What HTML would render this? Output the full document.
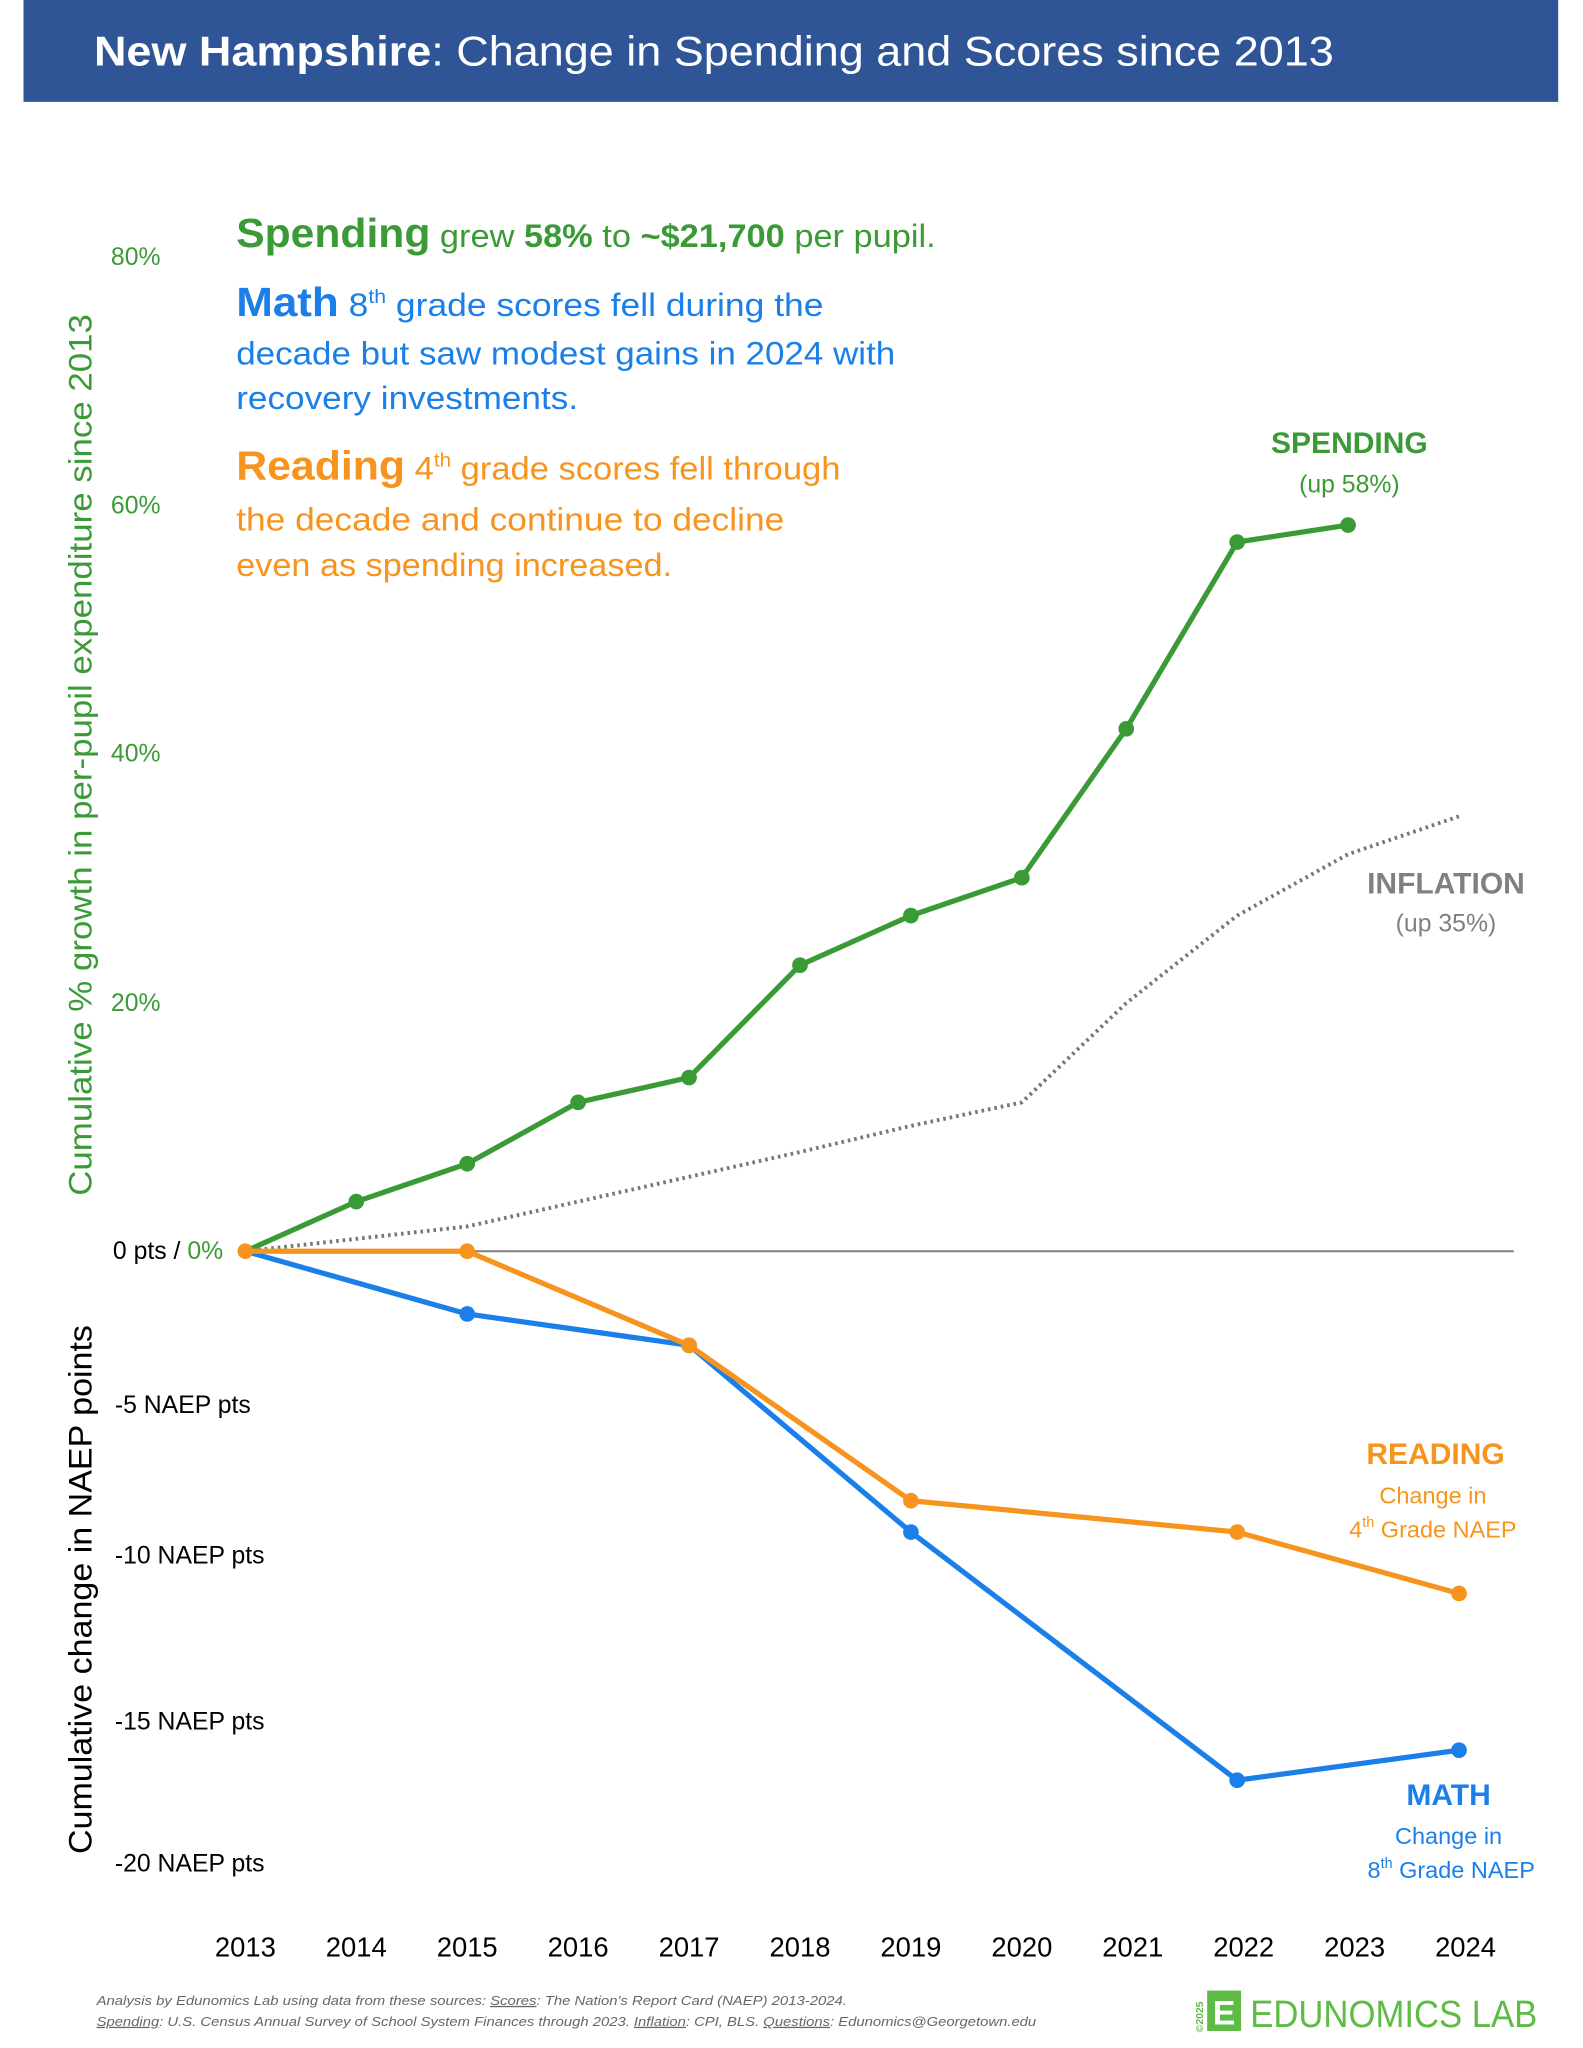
<!DOCTYPE html>
<html><head><meta charset="utf-8"><style>
html,body{margin:0;padding:0;background:#fff;}
svg{display:block;}
text{font-family:"Liberation Sans",sans-serif;}
</style></head><body>
<svg width="1583" height="2048" viewBox="0 0 1213 1568" preserveAspectRatio="none" xmlns="http://www.w3.org/2000/svg">
<rect x="0" y="0" width="1213" height="1568" fill="#fff"/>
<rect x="18" y="0" width="1176" height="78" fill="#2F5597"/>
<text x="72" y="50" font-size="32" fill="#fff" textLength="950" lengthAdjust="spacingAndGlyphs"><tspan font-weight="bold">New Hampshire</tspan>: Change in Spending and Scores since 2013</text>

<!-- intro text -->
<text x="181" y="189" font-size="25" fill="#3A9A35" textLength="536" lengthAdjust="spacingAndGlyphs"><tspan font-size="31" font-weight="bold">Spending</tspan> grew <tspan font-weight="bold">58%</tspan> to <tspan font-weight="bold">~$21,700</tspan> per pupil.</text>
<text x="181" y="242" font-size="25" fill="#1A7FE8" textLength="450" lengthAdjust="spacingAndGlyphs"><tspan font-size="31" font-weight="bold">Math</tspan> 8<tspan font-size="15" dy="-10">th</tspan><tspan dy="10"> grade scores fell during the</tspan></text>
<text x="181" y="279" font-size="25" fill="#1A7FE8" textLength="505" lengthAdjust="spacingAndGlyphs">decade but saw modest gains in 2024 with</text>
<text x="181" y="313" font-size="25" fill="#1A7FE8" textLength="262" lengthAdjust="spacingAndGlyphs">recovery investments.</text>
<text x="181" y="367" font-size="25" fill="#F7941D" textLength="463" lengthAdjust="spacingAndGlyphs"><tspan font-size="31" font-weight="bold">Reading</tspan> 4<tspan font-size="15" dy="-10">th</tspan><tspan dy="10"> grade scores fell through</tspan></text>
<text x="181" y="406" font-size="25" fill="#F7941D" textLength="420" lengthAdjust="spacingAndGlyphs">the decade and continue to decline</text>
<text x="181" y="441" font-size="25" fill="#F7941D" textLength="334" lengthAdjust="spacingAndGlyphs">even as spending increased.</text>

<!-- y labels -->
<g font-size="19" fill="#3A9A35">
<text x="85" y="203">80%</text><text x="85" y="393">60%</text><text x="85" y="583">40%</text><text x="85" y="774">20%</text>
</g>
<text x="171" y="964" font-size="19" text-anchor="end" fill="#000">0 pts / <tspan fill="#3A9A35">0%</tspan></text>
<g font-size="19" fill="#000">
<text x="88" y="1082">-5 NAEP pts</text><text x="88" y="1197">-10 NAEP pts</text><text x="88" y="1324">-15 NAEP pts</text><text x="88" y="1433">-20 NAEP pts</text>
</g>
<text transform="translate(70,578) rotate(-90)" text-anchor="middle" font-size="25" fill="#3A9A35" textLength="675" lengthAdjust="spacingAndGlyphs">Cumulative % growth in per-pupil expenditure since 2013</text>
<text transform="translate(70,1217) rotate(-90)" text-anchor="middle" font-size="25" fill="#000" textLength="405" lengthAdjust="spacingAndGlyphs">Cumulative change in NAEP points</text>

<!-- zero line -->
<line x1="188" y1="958" x2="1160" y2="958" stroke="#808080" stroke-width="1.5"/>

<!-- inflation -->
<polyline fill="none" stroke="#777" stroke-width="3" stroke-dasharray="2,3" points="188,958 358,939 528,901 613,882 698,862 783,844 863,768 948,701 1033,654 1118,625"/>
<!-- spending -->
<polyline fill="none" stroke="#3A9A35" stroke-width="4" points="188,958 273,920 358,891 443,844 528,825 613,739 698,701 783,672 863,558 948,415 1033,402"/>
<g fill="#3A9A35">
<circle cx="273" cy="920" r="6"/><circle cx="358" cy="891" r="6"/><circle cx="443" cy="844" r="6"/><circle cx="528" cy="825" r="6"/><circle cx="613" cy="739" r="6"/><circle cx="698" cy="701" r="6"/><circle cx="783" cy="672" r="6"/><circle cx="863" cy="558" r="6"/><circle cx="948" cy="415" r="6"/><circle cx="1033" cy="402" r="6"/>
</g>
<!-- math -->
<polyline fill="none" stroke="#1A7FE8" stroke-width="4" points="188,958 358,1006 528,1030 698,1173 948,1363 1118,1340"/>
<g fill="#1A7FE8">
<circle cx="358" cy="1006" r="6"/><circle cx="528" cy="1030" r="6"/><circle cx="698" cy="1173" r="6"/><circle cx="948" cy="1363" r="6"/><circle cx="1118" cy="1340" r="6"/>
</g>
<!-- reading -->
<polyline fill="none" stroke="#F7941D" stroke-width="4" points="188,958 358,958 528,1030 698,1149 948,1173 1118,1220"/>
<g fill="#F7941D">
<circle cx="188" cy="958" r="6"/><circle cx="358" cy="958" r="6"/><circle cx="528" cy="1030" r="6"/><circle cx="698" cy="1149" r="6"/><circle cx="948" cy="1173" r="6"/><circle cx="1118" cy="1220" r="6"/>
</g>

<!-- annotations -->
<g text-anchor="middle">
<text x="1034" y="347" font-size="23" font-weight="bold" fill="#3A9A35">SPENDING</text>
<text x="1034" y="377" font-size="19" fill="#3A9A35">(up 58%)</text>
<text x="1108" y="684" font-size="23" font-weight="bold" fill="#808080">INFLATION</text>
<text x="1108" y="713" font-size="19" fill="#808080">(up 35%)</text>
<text x="1100" y="1121" font-size="23" font-weight="bold" fill="#F7941D">READING</text>
<text x="1098" y="1151" font-size="18" fill="#F7941D">Change in</text>
<text x="1098" y="1177" font-size="18" fill="#F7941D">4<tspan font-size="11" dy="-8">th</tspan><tspan dy="8"> Grade NAEP</tspan></text>
<text x="1110" y="1382" font-size="23" font-weight="bold" fill="#1A7FE8">MATH</text>
<text x="1110" y="1412" font-size="18" fill="#1A7FE8">Change in</text>
<text x="1112" y="1438" font-size="18" fill="#1A7FE8">8<tspan font-size="11" dy="-8">th</tspan><tspan dy="8"> Grade NAEP</tspan></text>
</g>

<!-- x labels -->
<g text-anchor="middle" font-size="21" fill="#000">
<text x="188" y="1498">2013</text><text x="273" y="1498">2014</text><text x="358" y="1498">2015</text><text x="443" y="1498">2016</text><text x="528" y="1498">2017</text><text x="613" y="1498">2018</text><text x="698" y="1498">2019</text><text x="783" y="1498">2020</text><text x="868" y="1498">2021</text><text x="953" y="1498">2022</text><text x="1038" y="1498">2023</text><text x="1123" y="1498">2024</text>
</g>

<!-- footer -->
<text x="74" y="1535" font-size="10" font-style="italic" fill="#666" textLength="575" lengthAdjust="spacingAndGlyphs">Analysis by Edunomics Lab using data from these sources: <tspan text-decoration="underline">Scores</tspan>: The Nation's Report Card (NAEP) 2013-2024.</text>
<text x="74" y="1551" font-size="10" font-style="italic" fill="#666" textLength="720" lengthAdjust="spacingAndGlyphs"><tspan text-decoration="underline">Spending</tspan>: U.S. Census Annual Survey of School System Finances through 2023. <tspan text-decoration="underline">Inflation</tspan>: CPI, BLS. <tspan text-decoration="underline">Questions</tspan>: Edunomics@Georgetown.edu</text>
<text transform="translate(922,1556) rotate(-90)" font-size="8" font-weight="bold" fill="#5DBB46">©2025</text>
<rect x="925" y="1524" width="26" height="31" fill="#5DBB46"/>
<text x="938" y="1550" font-size="26" font-weight="bold" fill="#fff" text-anchor="middle">E</text>
<text x="958" y="1552" font-size="29" fill="#5DBB46" textLength="220" lengthAdjust="spacingAndGlyphs">EDUNOMICS LAB</text>
</svg>
</body></html>
